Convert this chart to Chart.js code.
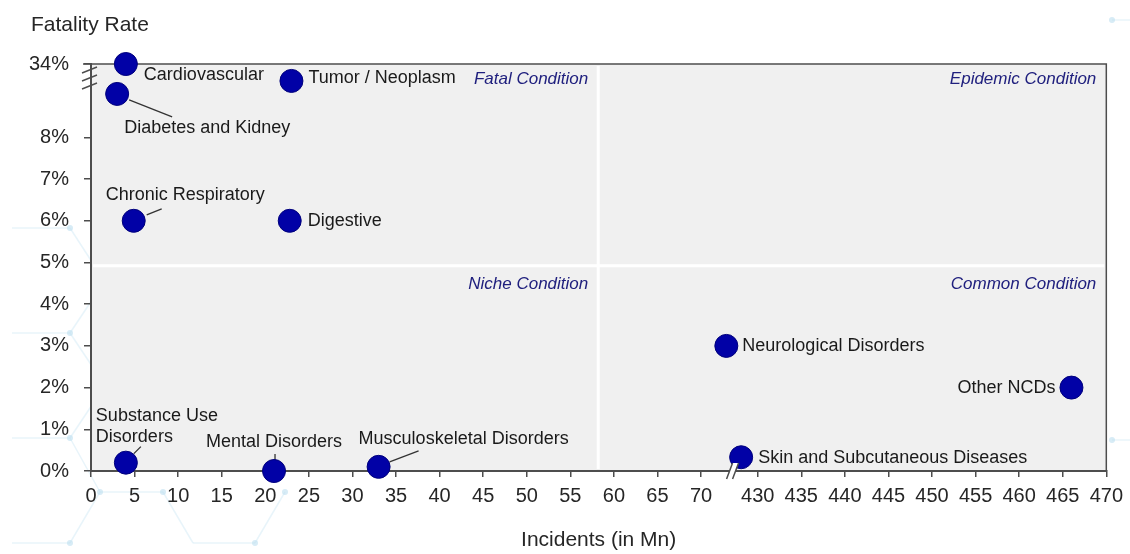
<!DOCTYPE html>
<html>
<head>
<meta charset="utf-8">
<title>Fatality Rate vs Incidents</title>
<script src="https://cdn.jsdelivr.net/npm/chart.js@4.4.1/dist/chart.umd.min.js"></script>
<style>
  html, body { margin: 0; padding: 0; background: #ffffff; }
  #wrap { width: 1130px; height: 554px; position: relative; }
</style>
</head>
<body>
<div id="wrap"><canvas id="chart" width="1130" height="554"></canvas></div>
<script>
// ---- data ----
const conditions = [
  'Cardiovascular', 'Tumor / Neoplasm', 'Diabetes and Kidney', 'Chronic Respiratory',
  'Digestive', 'Neurological Disorders', 'Other NCDs', 'Skin and Subcutaneous Diseases',
  'Substance Use Disorders', 'Mental Disorders', 'Musculoskeletal Disorders'
];
const incidentsMn = [4, 23, 3, 4.9, 22.8, 72.9, 466, 428.1, 4, 21, 33];
const fatalityPct = [34, 28, 23.4, 6, 6, 3, 2, 0.33, 0.2, 0, 0.1];

const xTickValues = [0, 5, 10, 15, 20, 25, 30, 35, 40, 45, 50, 55, 60, 65, 70,
                     430, 435, 440, 445, 450, 455, 460, 465, 470];
const yTickValues = [0, 1, 2, 3, 4, 5, 6, 7, 8, 34];
const quadrantNames = ['Fatal Condition', 'Epidemic Condition', 'Niche Condition', 'Common Condition'];

// ---- broken axes: continuous pieces and the share of the axis each one gets ----
const axisPieces = {
  x: [{ from: 0, to: 73.5, weight: 73.5 }, { from: 427, to: 470, weight: 43 }],
  y: [{ from: 0, to: 8, weight: 8 }, { from: 8, to: 34, weight: 1.76 }]
};
const axisTicks = { x: xTickValues, y: yTickValues };
// quadrant split lines (in axis units)
const splitIncidents = 58.2;
const splitFatality = 4.92;

class BrokenLinearScale extends Chart.LinearScale {
  static id = 'brokenLinear';
  static defaults = {};
  pieces() { return axisPieces[this.id]; }
  determineDataLimits() {
    const p = this.pieces();
    this.min = p[0].from;
    this.max = p[p.length - 1].to;
  }
  buildTicks() {
    const p = this.pieces();
    this.min = p[0].from;
    this.max = p[p.length - 1].to;
    return axisTicks[this.id].map(v => ({ value: v }));
  }
  toDecimal(v) {
    const p = this.pieces();
    const total = p.reduce((a, g) => a + g.weight, 0);
    let acc = 0;
    for (let i = 0; i < p.length; i++) {
      const g = p[i];
      if (v <= g.to || i === p.length - 1) {
        const t = Math.max(v, g.from);
        return (acc + (t - g.from) / (g.to - g.from) * g.weight) / total;
      }
      acc += g.weight;
    }
    return 1;
  }
  getPixelForValue(v) { return this.getPixelForDecimal(this.toDecimal(v)); }
  getValueForPixel(px) {
    const p = this.pieces();
    const total = p.reduce((a, g) => a + g.weight, 0);
    let d = this.getDecimalForPixel(px) * total;
    for (let i = 0; i < p.length; i++) {
      const g = p[i];
      if (d <= g.weight || i === p.length - 1) return g.from + d / g.weight * (g.to - g.from);
      d -= g.weight;
    }
    return this.max;
  }
  breakPixels() {
    const p = this.pieces();
    const out = [];
    for (let i = 0; i < p.length - 1; i++) out.push(this.getPixelForValue(p[i].to));
    return out;
  }
}
Chart.register(BrokenLinearScale);

const FONT = 'Arial, "Liberation Sans", Helvetica, sans-serif';
const INK = '#262626';
const AXIS = '#4d4d4d';

// label placement around each point: dx/dy from the point centre, optional leader line
const labelLayout = [
  { dx: 18, dy: 11, align: 'left' },
  { dx: 17, dy: -3, align: 'left' },
  { dx: 7, dy: 34, align: 'left', leader: [12, 6, 55, 23] },
  { dx: -28, dy: -26, align: 'left', leader: [13, -6, 28, -12] },
  { dx: 18, dy: 0, align: 'left' },
  { dx: 16, dy: 0, align: 'left' },
  { dx: -16, dy: 0, align: 'right' },
  { dx: 17, dy: 1, align: 'left' },
  { dx: -30, dy: -47, align: 'left', lines: ['Substance Use', 'Disorders'], leader: [8, -9, 15, -16] },
  { dx: 0, dy: -29, align: 'center', leader: [1, -11, 1, -17] },
  { dx: -20, dy: -28, align: 'left', leader: [11, -5, 40, -16] }
];

const backdrop = {
  id: 'backdrop',
  beforeDraw(chart) {
    const { ctx, chartArea: a } = chart;
    ctx.save();
    // faint network pattern behind the chart
    ctx.strokeStyle = 'rgba(205,230,243,0.45)';
    ctx.lineWidth = 1.5;
    const segs = [
      [12, 228, 70, 228], [70, 228, 92, 262], [12, 333, 70, 333], [70, 333, 92, 300],
      [70, 333, 92, 366], [12, 438, 70, 438], [70, 438, 92, 405], [70, 438, 100, 492],
      [100, 492, 163, 492], [70, 543, 100, 492], [12, 543, 70, 543], [163, 492, 193, 543],
      [193, 543, 255, 543], [255, 543, 285, 492], [1112, 20, 1130, 20], [1112, 440, 1130, 440]
    ];
    segs.forEach(s => { ctx.beginPath(); ctx.moveTo(s[0], s[1]); ctx.lineTo(s[2], s[3]); ctx.stroke(); });
    ctx.fillStyle = 'rgba(190,224,240,0.6)';
    [[70, 228], [70, 333], [70, 438], [100, 492], [163, 492], [70, 543], [255, 543], [285, 492], [1112, 20], [1112, 440]]
      .forEach(d => { ctx.beginPath(); ctx.arc(d[0], d[1], 3, 0, Math.PI * 2); ctx.fill(); });
    // plot area fill
    ctx.fillStyle = '#f0f0f0';
    ctx.fillRect(a.left, a.top, a.right - a.left, a.bottom - a.top);
    // y axis title
    ctx.fillStyle = INK;
    ctx.font = '21px ' + FONT;
    ctx.textAlign = 'left';
    ctx.textBaseline = 'middle';
    ctx.fillText('Fatality Rate', 31, 25);
    ctx.restore();
  },
  beforeDatasetsDraw(chart) {
    const { ctx, chartArea: a, scales: { x, y } } = chart;
    const vx = x.getPixelForValue(splitIncidents);
    const hy = y.getPixelForValue(splitFatality);
    ctx.save();
    // quadrant split lines
    ctx.strokeStyle = '#ffffff';
    ctx.lineWidth = 3;
    ctx.beginPath();
    ctx.moveTo(vx, a.top + 2); ctx.lineTo(vx, a.bottom - 2);
    ctx.moveTo(a.left + 2, hy); ctx.lineTo(a.right - 2, hy);
    ctx.stroke();
    // top and right frame
    ctx.strokeStyle = AXIS;
    ctx.lineWidth = 1.5;
    ctx.beginPath();
    ctx.moveTo(a.left - 8, a.top); ctx.lineTo(a.right, a.top); ctx.lineTo(a.right, a.bottom);
    ctx.stroke();
    // quadrant names
    ctx.fillStyle = '#20207e';
    ctx.font = 'italic 17px ' + FONT;
    ctx.textAlign = 'right';
    ctx.textBaseline = 'middle';
    ctx.fillText(quadrantNames[0], vx - 10, a.top + 15);
    ctx.fillText(quadrantNames[1], a.right - 10, a.top + 15);
    ctx.fillText(quadrantNames[2], vx - 10, hy + 18);
    ctx.fillText(quadrantNames[3], a.right - 10, hy + 18);
    // leader lines
    const pts = chart.getDatasetMeta(0).data;
    ctx.strokeStyle = '#333333';
    ctx.lineWidth = 1.3;
    labelLayout.forEach((l, i) => {
      if (!l.leader) return;
      const p = pts[i];
      ctx.beginPath();
      ctx.moveTo(p.x + l.leader[0], p.y + l.leader[1]);
      ctx.lineTo(p.x + l.leader[2], p.y + l.leader[3]);
      ctx.stroke();
    });
    ctx.restore();
  },
  afterDatasetsDraw(chart) {
    const { ctx, chartArea: a, scales: { x } } = chart;
    const pts = chart.getDatasetMeta(0).data;
    ctx.save();
    // point labels
    ctx.fillStyle = '#1a1a1a';
    ctx.font = '18px ' + FONT;
    ctx.textBaseline = 'middle';
    labelLayout.forEach((l, i) => {
      const p = pts[i];
      ctx.textAlign = l.align;
      const lines = l.lines || [conditions[i]];
      lines.forEach((t, k) => ctx.fillText(t, p.x + l.dx, p.y + l.dy + k * 21));
    });
    // axis break marks
    ctx.strokeStyle = AXIS;
    ctx.lineWidth = 1.5;
    x.breakPixels().forEach(bx => {
      const yb = a.bottom;
      ctx.fillStyle = '#ffffff';
      ctx.beginPath();
      ctx.moveTo(bx - 5, yb + 8); ctx.lineTo(bx + 1, yb - 8);
      ctx.lineTo(bx + 7, yb - 8); ctx.lineTo(bx + 1, yb + 8);
      ctx.closePath();
      ctx.fill();
      ctx.beginPath();
      ctx.moveTo(bx - 5, yb + 8); ctx.lineTo(bx + 1, yb - 8);
      ctx.moveTo(bx + 1, yb + 8); ctx.lineTo(bx + 7, yb - 8);
      ctx.stroke();
    });
    const ax = a.left - 1;
    [70, 78, 86].forEach(yy => {
      ctx.beginPath();
      ctx.moveTo(ax - 8, yy + 3); ctx.lineTo(ax + 7, yy - 3);
      ctx.stroke();
    });
    ctx.restore();
  }
};

const scatterData = conditions.map((c, i) => ({ x: incidentsMn[i], y: fatalityPct[i] }));

new Chart(document.getElementById('chart'), {
  type: 'scatter',
  data: {
    datasets: [{
      label: 'Conditions',
      data: scatterData,
      pointRadius: 11.5,
      pointHoverRadius: 11.5,
      pointBackgroundColor: '#0101a6',
      pointBorderColor: '#00007c',
      pointBorderWidth: 1,
      clip: false
    }]
  },
  options: {
    responsive: false,
    animation: false,
    events: [],
    layout: { padding: { left: 0, right: 22, top: 64, bottom: 0 } },
    plugins: { legend: { display: false }, tooltip: { enabled: false }, title: { display: false } },
    scales: {
      x: {
        type: 'brokenLinear',
        position: 'bottom',
        afterFit: s => { s.height = 83; },
        grid: { display: true, drawOnChartArea: false, drawTicks: true, tickLength: 6, color: AXIS, lineWidth: 1.5 },
        border: { display: true, color: AXIS, width: 2 },
        ticks: {
          autoSkip: false, maxRotation: 0, padding: 7, color: INK,
          font: { family: FONT, size: 20 },
          callback: v => String(v)
        },
        title: {
          display: true, text: 'Incidents (in Mn)', color: INK,
          font: { family: FONT, size: 21 }, padding: { top: 0, bottom: 1 }
        }
      },
      y: {
        type: 'brokenLinear',
        position: 'left',
        afterFit: s => { s.width = 91; },
        grid: { display: true, drawOnChartArea: false, drawTicks: true, tickLength: 7, color: AXIS, lineWidth: 1.5 },
        border: { display: true, color: AXIS, width: 2 },
        ticks: {
          autoSkip: false, padding: 15, color: INK,
          font: { family: FONT, size: 20 },
          callback: v => v + '%'
        }
      }
    }
  },
  plugins: [backdrop]
});
</script>
</body>
</html>
